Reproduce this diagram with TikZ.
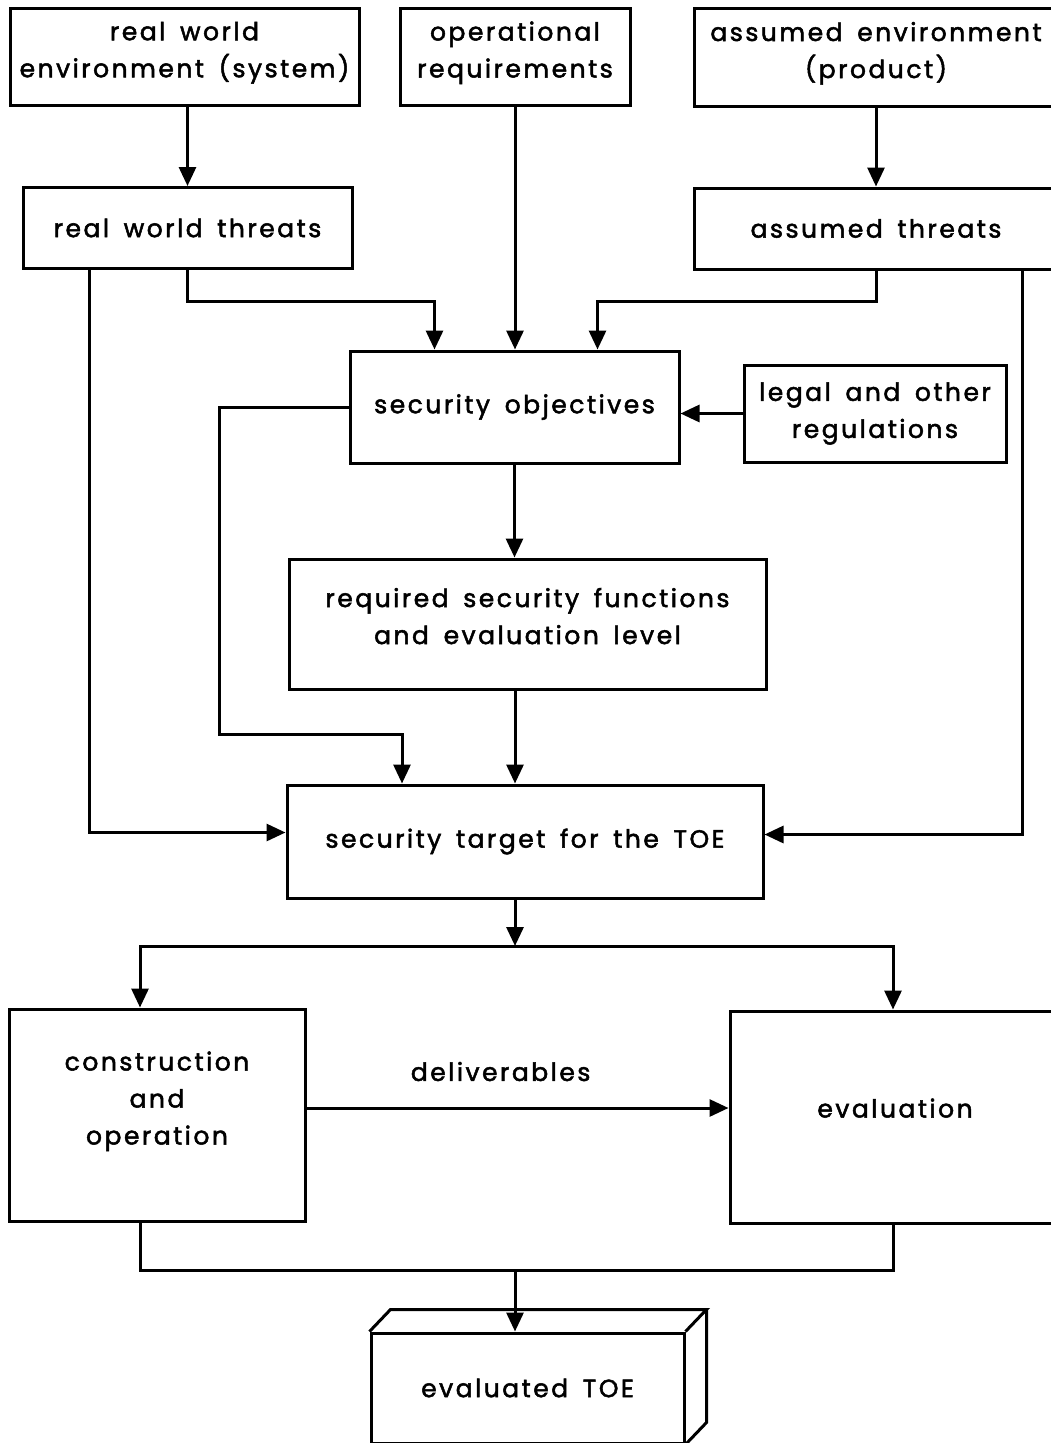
\documentclass[tikz,border=0pt]{standalone}
\usepackage{fontspec}
\setmainfont{Poppins}[LetterSpace=10, WordSpace=1.6, FakeBold=2]
\usetikzlibrary{arrows.meta,calc}
\tikzset{
  box/.style={draw, line width=3pt, align=center, inner sep=0pt,
    font=\fontsize{25}{37}\selectfont},
  wire/.style={line width=3pt, line join=miter},
  arr/.style={wire, -{Triangle[width=17pt,length=19pt]}},
}
\begin{document}
\begin{tikzpicture}[x=1pt,y=-1pt]
    \useasboundingbox (0,0) rectangle (1051,1443);
    \clip (0,0) rectangle (1051,1443);

    % inputs
    \node[box, minimum width=349pt, minimum height=97pt, text depth=14pt] (env) at (184.5,56.5) {real world\\environment (system)};
    \node[box, minimum width=230pt, minimum height=97pt, text depth=14pt] (ops) at (515,56.5) {operational\\requirements};
    \node[box, minimum width=364pt, minimum height=98pt, text depth=14pt] (aenv) at (876,57) {assumed environment\\(product)};

    \node[box, minimum width=329pt, minimum height=81pt] (rwt) at (187.5,228) {real world threats};
    \node[box, minimum width=364pt, minimum height=81pt] (at) at (876,228.5) {assumed threats};

    % objectives and target
    \node[box, minimum width=329pt, minimum height=112pt] (so) at (514.5,407) {security objectives};
    \node[box, minimum width=262pt, minimum height=97pt] (legal) at (875,413.5) {legal and other\\regulations};
    \node[box, minimum width=477pt, minimum height=130pt, text depth=16pt] (req) at (527.5,624) {required security functions\\and evaluation level};
    \node[box, minimum width=476pt, minimum height=113pt] (st) at (525,841.5) {security target for the TOE};

    % construction and evaluation
    \node[box, minimum width=296pt, minimum height=212pt, text depth=34pt] (co) at (157,1115) {construction\\and\\operation};
    \node[box, minimum width=330pt, minimum height=212pt, text depth=18pt] (ev) at (895,1117) {evaluation};

    % evaluated TOE as a block
    \node[box, minimum width=313pt, minimum height=110pt] (toe) at (527.5,1388) {evaluated TOE};
    \draw[wire] (toe.north west) -- ++(21,-22) -- ($(toe.north east)+(21,-22)$) -- (toe.north east);
    \draw[wire] ($(toe.north east)+(21,-22)$) -- ($(toe.south east)+(21,-22)$) -- (toe.south east);

    \coordinate (bus) at (515,946);
    \coordinate (bus2) at (515,1270);

    % connectors
    \draw[arr] (rwt.north |- env.south) -- (rwt.north);
    \draw[arr] (aenv.south) -- (at.north);
    \draw[arr] (rwt.south) -- ++(0,31) -| ($(so.north)+(-80,0)$);
    \draw[arr] (ops.south) -- (ops.south |- so.north);
    \draw[arr] (at.south) -- ++(0,31) -| ($(so.north)+(83,0)$);
    \draw[arr] (legal.west) -- (legal.west -| so.east);

    \draw[arr] ($(rwt.south west)+(68,0)$) |- ($(st.west)+(0,-9)$);
    \draw[arr] ($(at.south)+(146,0)$) |- ($(st.east)+(0,-7)$);
    \draw[arr] (so.west) -- ++(-129,0) |- ($(st.north)+(-123,-49)$) -- ($(st.north)+(-123,0)$);

    \draw[arr] (so.south) -- (so.south |- req.north);
    \draw[arr] (req.south -| bus) -- (st.north -| bus);

    \draw[arr] (st.south -| bus) -- (bus);
    \draw[arr] (bus) -| ($(co.north)+(-17,0)$);
    \draw[arr] (bus) -| ($(ev.north)+(-2,0)$);

    \draw[arr] ($(co.east)+(0,-7)$) -- ($(ev.west)+(0,-9)$)
        node[pos=0.46, above=22pt, font=\fontsize{25}{37}\selectfont] (dlv) {deliverables};

    \draw[wire] ($(co.south)+(-17,0)$) |- (bus2) -| ($(ev.south)+(-2,0)$);
    \draw[arr] (bus2) -- (bus2 |- toe.north);
\end{tikzpicture}
\end{document}
